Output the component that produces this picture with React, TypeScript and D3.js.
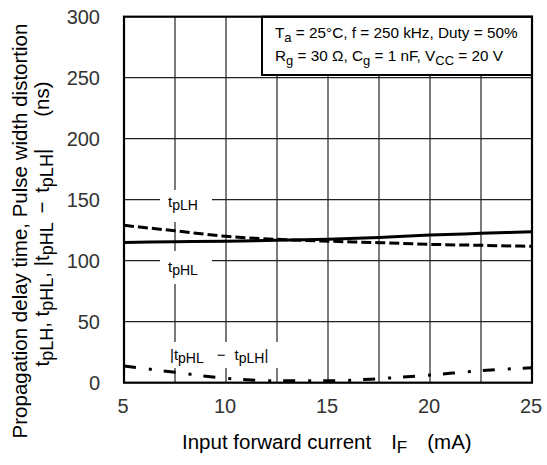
import React from "react";
import * as d3 from "d3";

const currents = [5, 7.5, 10, 12.5, 15, 17.5, 20, 22.5, 25];
const tpLH = [129, 124.5, 120, 117.5, 116, 114.8, 113.4, 112.6, 111.8];
const tpHL = [115, 115.5, 116, 116.7, 117.5, 119, 121, 122.4, 123.8];
const distortion = [13.7, 8.5, 3.6, 1.6, 1.5, 3.3, 6.3, 9.8, 12.3];
const xTicks = [5, 10, 15, 20, 25];
const yTicks = [0, 50, 100, 150, 200, 250, 300];
const xGrid = [7.5, 10, 12.5, 15, 17.5, 20, 22.5];
const yGrid = [50, 100, 150, 200, 250];

const W = 547;
const H = 465;
const L = 124, R = 532, T = 16.7, B = 382.7;
const FONT = "'Liberation Sans', Arial, Helvetica, sans-serif";

export default function App() {
  const x = d3.scaleLinear().domain([5, 25]).range([L, R]);
  const y = d3.scaleLinear().domain([0, 300]).range([B, T]);
  const line = (vals: number[]) =>
    d3
      .line<number>()
      .x((_, i) => x(currents[i]))
      .y((v) => y(v))
      .curve(d3.curveMonotoneX)(vals) || "";

  return (
    <svg
      width={W}
      height={H}
      style={{ position: "absolute", left: 0, top: 0, background: "#fff" }}
      fontFamily={FONT}
    >
      <rect x={0} y={0} width={W} height={H} fill="#fff" />
      {/* grid */}
      {xGrid.map((v) => (
        <line key={"gx" + v} x1={x(v)} x2={x(v)} y1={T} y2={B} stroke="#222" strokeWidth={1.2} />
      ))}
      {yGrid.map((v) => (
        <line key={"gy" + v} x1={L} x2={R} y1={y(v)} y2={y(v)} stroke="#222" strokeWidth={1.2} />
      ))}
      {/* label masks */}
      <rect x={160} y={190} width={52} height={32} fill="#fff" />
      <rect x={160} y={251} width={52} height={33} fill="#fff" />
      <rect x={164} y={342} width={116} height={26} fill="#fff" />

      {/* legend box */}
      <rect x={262} y={T} width={R - 262} height={75 - T} fill="#fff" stroke="#000" strokeWidth={2} />
      <text x={275} y={38} fontSize={15.3} fill="#000">
        T<tspan dy={4} fontSize={13}>a</tspan>
        <tspan dy={-4}> = 25°C, f = 250 kHz, Duty = 50%</tspan>
      </text>
      <text x={275} y={61} fontSize={15.3} fill="#000">
        R<tspan dy={4} fontSize={13}>g</tspan>
        <tspan dy={-4}> = 30 Ω, C</tspan>
        <tspan dy={4} fontSize={13}>g</tspan>
        <tspan dy={-4}> = 1 nF, V</tspan>
        <tspan dy={4} fontSize={13}>CC</tspan>
        <tspan dy={-4}> = 20 V</tspan>
      </text>

      {/* curve labels */}
      <text x={168} y={207} fontSize={15} fill="#000">
        t<tspan dy={3} fontSize={14}>pLH</tspan>
      </text>
      <text x={168} y={272} fontSize={15} fill="#000">
        t<tspan dy={3} fontSize={14}>pHL</tspan>
      </text>
      <text x={170} y={360} fontSize={15} fill="#000">
        |t<tspan dy={3} fontSize={14}>pHL</tspan>
        <tspan dy={-3} dx={13}>{"\u2212"}</tspan>
        <tspan dx={9}>t</tspan>
        <tspan dy={3} fontSize={14}>pLH</tspan>
        <tspan dy={-3}>|</tspan>
      </text>

      {/* curves */}
      <path d={line(tpHL)} fill="none" stroke="#000" strokeWidth={3} />
      <path d={line(tpLH)} fill="none" stroke="#000" strokeWidth={3} strokeDasharray="10 4" />
      <path d={line(distortion)} fill="none" stroke="#000" strokeWidth={3} strokeDasharray="12 13 3 12" />

      {/* border */}
      <rect x={L} y={T} width={R - L} height={B - T} fill="none" stroke="#000" strokeWidth={2.2} />

      {/* ticks */}
      {xTicks.map((v) => (
        <text key={"xt" + v} x={x(v) - 1} y={413} fontSize={20} textAnchor="middle" fill="#333">
          {v}
        </text>
      ))}
      {yTicks.map((v) => (
        <text key={"yt" + v} x={100} y={y(v) + 7} fontSize={20} textAnchor="end" fill="#333">
          {v}
        </text>
      ))}

      {/* x title */}
      <text x={182} y={449} fontSize={20.5} fill="#000">
        Input forward current
        <tspan dx={20}>I</tspan>
        <tspan dy={4} fontSize={17}>F</tspan>
        <tspan dy={-4} dx={20}>(mA)</tspan>
      </text>

      {/* y title */}
      <text transform="translate(27,231) rotate(-90)" fontSize={20.5} textAnchor="middle" fill="#000">
        Propagation delay time, Pulse width distortion
      </text>
      <text transform="translate(49,224) rotate(-90)" fontSize={20.5} textAnchor="middle" fill="#000">
        t<tspan dy={4} fontSize={18}>pLH</tspan>
        <tspan dy={-4}>, t</tspan>
        <tspan dy={4} fontSize={18}>pHL</tspan>
        <tspan dy={-4}>, |t</tspan>
        <tspan dy={4} fontSize={18}>pHL</tspan>
        <tspan dy={-4} dx={3}>{" \u2212 "}</tspan>
        <tspan dx={3}>t</tspan>
        <tspan dy={4} fontSize={18}>pLH</tspan>
        <tspan dy={-4}>|</tspan>
        <tspan dx={32}>(ns)</tspan>
      </text>
    </svg>
  );
}
